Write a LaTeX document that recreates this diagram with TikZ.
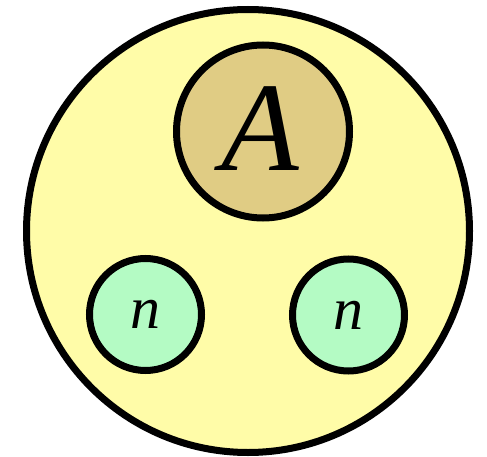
\documentclass[tikz,border=0pt]{standalone}
\usepackage{fontspec}
\setmainfont{Liberation Serif}
\usepackage{tikz}

\definecolor{cellyellow}{RGB}{255,252,168}
\definecolor{atomtan}{RGB}{224,204,132}
\definecolor{leafgreen}{RGB}{180,251,196}

\begin{document}
\begin{tikzpicture}[x=1pt, y=1pt,
    ball/.style={circle, draw=black, line width=7pt, inner sep=0pt}]
      \useasboundingbox (0,0) rectangle (487,456);
      % outer cell
      \node[ball, fill=cellyellow, minimum size=443pt] (cell) at (248,225) {};
      % inner atom
      \node[ball, fill=atomtan, minimum size=173pt,
            font=\fontsize{127}{127}\selectfont\itshape] (atom) at (263,324.5) {\hspace*{-5pt}\raisebox{6pt}{A}};
      % two leaves
      \foreach \x/\y/\name in {145.5/141.5/left, 348.5/141/right} {
          \node[ball, fill=leafgreen, minimum size=112pt,
                font=\fontsize{60}{60}\selectfont\itshape] (\name) at (\x,\y) {n};
        }
    \end{tikzpicture}
\end{document}
